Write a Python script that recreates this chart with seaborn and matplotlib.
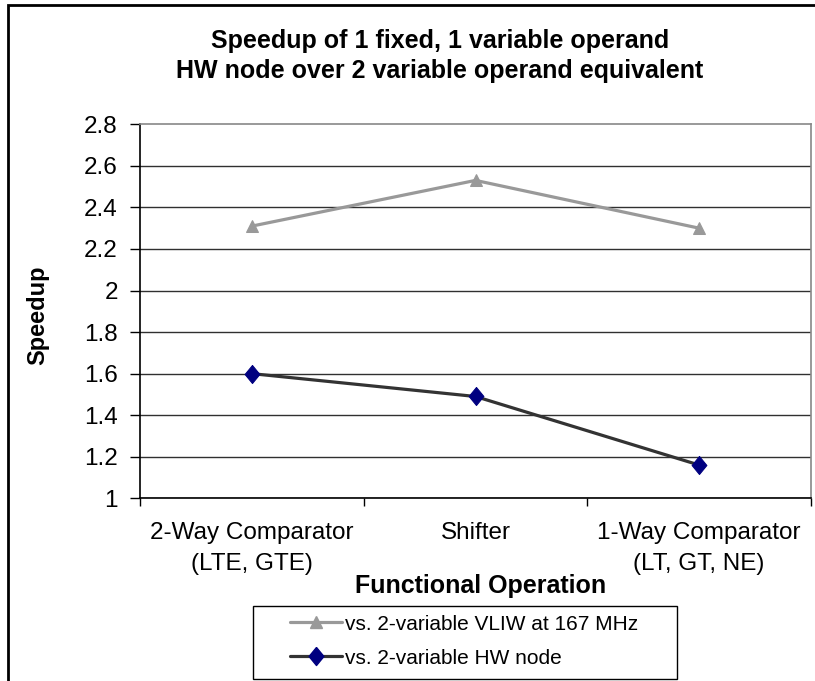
import matplotlib
matplotlib.use("Agg")
import matplotlib.pyplot as plt
import seaborn as sns
import pandas as pd
from matplotlib.patches import Rectangle
from matplotlib.lines import Line2D

categories = ["2-Way Comparator\n(LTE, GTE)", "Shifter", "1-Way Comparator\n(LT, GT, NE)"]
vliw_values = [2.31, 2.53, 2.30]
hw_values = [1.60, 1.49, 1.16]
series_names = ["vs. 2-variable VLIW at 167 MHz", "vs. 2-variable HW node"]
y_ticks = [1, 1.2, 1.4, 1.6, 1.8, 2, 2.2, 2.4, 2.6, 2.8]
y_tick_labels = ["1", "1.2", "1.4", "1.6", "1.8", "2", "2.2", "2.4", "2.6", "2.8"]

sns.set_theme(style="white")
plt.rcParams['font.family'] = ['Liberation Sans', 'DejaVu Sans']
for k in ["text.color", "axes.labelcolor", "xtick.color", "ytick.color"]:
    plt.rcParams[k] = "black"

W, H = 815, 681
fig = plt.figure(figsize=(W/100, H/100), dpi=100)
ax = fig.add_axes([140/W, 1-498.3/H, (811-140)/W, (498.3-124.3)/H])

diamond = [(0, 1), (0.82, 0), (0, -1), (-0.82, 0), (0, 1)]

df_v = pd.DataFrame({"x": range(len(categories)), "y": vliw_values})
df_h = pd.DataFrame({"x": range(len(categories)), "y": hw_values})

for yv in y_ticks[:-1]:
    ax.axhline(yv, color="#303030", lw=1.0, zorder=0)

sns.lineplot(data=df_v, x="x", y="y", ax=ax, color="#999999", lw=2.3,
             marker="^", markersize=8, markerfacecolor="#999999",
             markeredgecolor="#999999", zorder=3)
sns.lineplot(data=df_h, x="x", y="y", ax=ax, color="#333333", lw=2.3,
             marker=diamond, markersize=13, markerfacecolor="#000080",
             markeredgecolor="#000080", zorder=3)

ax.set_xlim(-0.5, 2.5)
ax.set_ylim(1, 2.8)
ax.set_yticks(y_ticks)
ax.set_yticklabels(y_tick_labels, fontsize=17.5)
ax.set_xticks(range(len(categories)))
ax.set_xticklabels(categories, fontsize=17.5, linespacing=1.55)
ax.set_xticks([-0.5, 0.5, 1.5, 2.5], minor=True)
ax.tick_params(axis="x", which="major", length=0, pad=17)
ax.tick_params(axis="x", which="minor", length=6, width=1, color="black", direction="out", bottom=True)
ax.tick_params(axis="y", which="major", length=7, width=1, color="black", direction="out", left=True, pad=9)
ax.set_xlabel("")
ax.set_ylabel("")
for s in ["left", "bottom"]:
    ax.spines[s].set_color("black")
    ax.spines[s].set_linewidth(1.2)
for s in ["top", "right"]:
    ax.spines[s].set_color("#888888")
    ax.spines[s].set_linewidth(1.2)

fig.text(440/W, 1-48/H, "Speedup of 1 fixed, 1 variable operand", ha="center", va="baseline",
         fontsize=18, fontweight="bold")
fig.text(440/W, 1-78/H, "HW node over 2 variable operand equivalent", ha="center", va="baseline",
         fontsize=18, fontweight="bold")
fig.text(38/W, 1-315/H, "Speedup", rotation=90, ha="center", va="center",
         fontsize=17, fontweight="bold")
fig.text(481/W, 1-593/H, "Functional Operation", ha="center", va="baseline",
         fontsize=18, fontweight="bold")

handles = [
    Line2D([], [], color="#999999", lw=2.3, marker="^", markersize=8,
           markerfacecolor="#999999", markeredgecolor="#999999"),
    Line2D([], [], color="#333333", lw=2.3, marker=diamond, markersize=13,
           markerfacecolor="#000080", markeredgecolor="#000080"),
]
leg = fig.legend(handles, series_names, loc="center left",
                 bbox_to_anchor=(290/W, 1-641/H), fontsize=15,
                 frameon=False, handlelength=2.5, handletextpad=0.15,
                 borderpad=0, labelspacing=0.72, borderaxespad=0)

fig.patches.append(Rectangle((253/W, 1-679/H), (677-253)/W, (679-606)/H,
                             transform=fig.transFigure, fill=False,
                             edgecolor="black", lw=1.0, zorder=5))
fig.patches.append(Rectangle((8/W, -0.1), 1.2, 1 - 5/H + 0.1, transform=fig.transFigure,
                             fill=False, edgecolor="black", lw=2, zorder=10))

fig.savefig("out.png", dpi=100)
